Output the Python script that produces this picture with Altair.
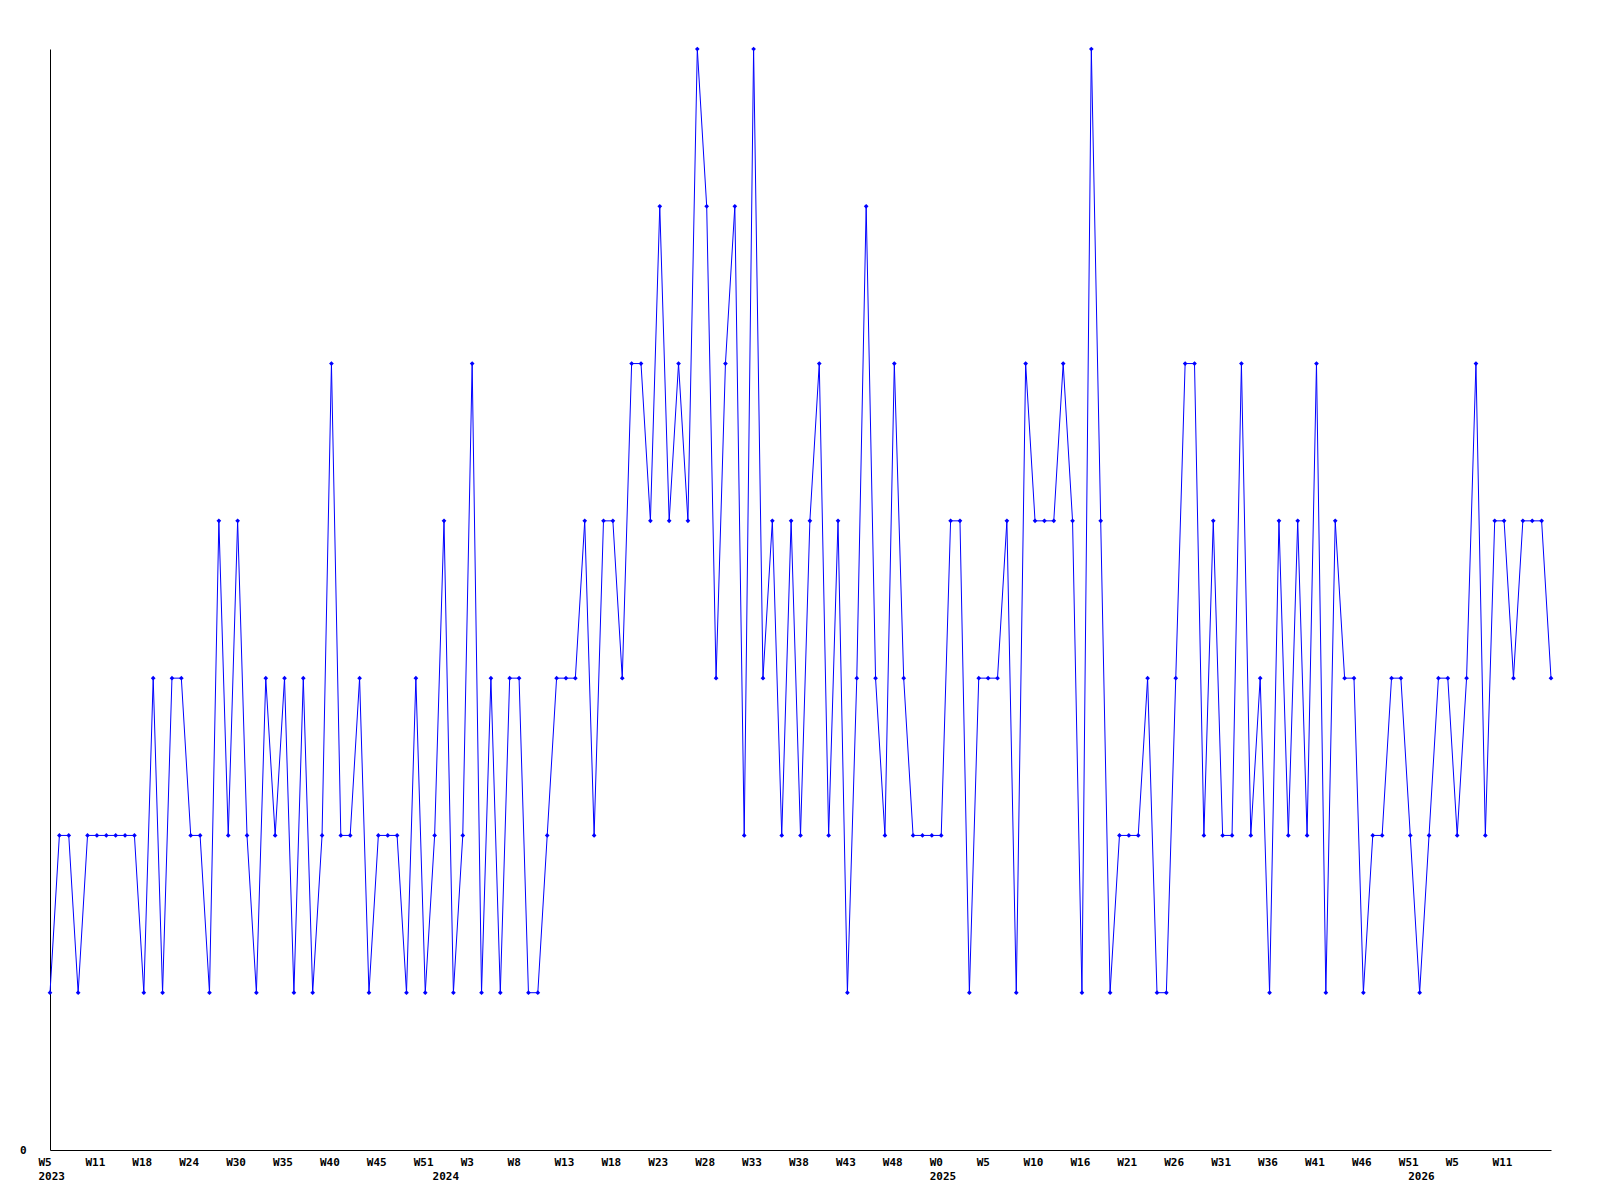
import altair as alt
import pandas as pd

values = [1, 2, 2, 1, 2, 2, 2, 2, 2, 2,
          1, 3, 1, 3, 3, 2, 2, 1, 4, 2,
          4, 2, 1, 3, 2, 3, 1, 3, 1, 2,
          5, 2, 2, 3, 1, 2, 2, 2, 1, 3,
          1, 2, 4, 1, 2, 5, 1, 3, 1, 3,
          3, 1, 1, 2, 3, 3, 3, 4, 2, 4,
          4, 3, 5, 5, 4, 6, 4, 5, 4, 7,
          6, 3, 5, 6, 2, 7, 3, 4, 2, 4,
          2, 4, 5, 2, 4, 1, 3, 6, 3, 2,
          5, 3, 2, 2, 2, 2, 4, 4, 1, 3,
          3, 3, 4, 1, 5, 4, 4, 4, 5, 4,
          1, 7, 4, 1, 2, 2, 2, 3, 1, 1,
          3, 5, 5, 2, 4, 2, 2, 5, 2, 3,
          1, 4, 2, 4, 2, 5, 1, 4, 3, 3,
          1, 2, 2, 3, 3, 2, 1, 2, 3, 3,
          2, 3, 5, 2, 4, 4, 3, 4, 4, 4,
          3]

tick_index = list(range(0, 160, 5))
tick_weeks = ["W5", "W11", "W18", "W24", "W30", "W35", "W40", "W45", "W51",
              "W3", "W8", "W13", "W18", "W23", "W28", "W33", "W38", "W43", "W48",
              "W0", "W5", "W10", "W16", "W21", "W26", "W31", "W36", "W41", "W46", "W51",
              "W5", "W11"]
year_index = [0, 42, 95, 146]
year_names = ["2023", "2024", "2025", "2026"]

df = pd.DataFrame({"i": list(range(len(values))), "v": values})

labels = {}
for idx, w in zip(tick_index, tick_weeks):
    labels[idx] = [w]
for idx, y in zip(year_index, year_names):
    if idx in labels:
        labels[idx] = labels[idx] + [y]
    else:
        labels[idx] = ["", y]

entries = []
for k in range(len(values)):
    if k in labels:
        entries.append("[" + ",".join("'%s'" % s for s in labels[k]) + "]")
    else:
        entries.append("''")
label_expr = "[" + ",".join(entries) + "][round(datum.value)]"
axis_values = sorted(labels.keys())

FONT = "DejaVu Sans Mono"

chart = alt.Chart(df).mark_line(
    color="#0000FF", strokeWidth=1,
    point=alt.OverlayMarkDef(shape="diamond", size=22, color="#0000FF", filled=True)
).encode(
    x=alt.X("i:Q", scale=alt.Scale(domain=[0, 160], nice=False, zero=False),
            axis=alt.Axis(values=axis_values, labelExpr=label_expr, title=None,
                          ticks=False, grid=False, domainColor="black", domainWidth=1,
                          labelAlign="left", labelBaseline="top", labelOffset=-12,
                          labelPadding=6, labelFont=FONT, labelFontWeight="bold",
                          labelFontSize=11, labelColor="black", labelLineHeight=14,
                          labelOverlap=False, labelFlush=False)),
    y=alt.Y("v:Q", scale=alt.Scale(domain=[0, 7], nice=False),
            axis=alt.Axis(values=[0], title=None, ticks=False, grid=False,
                          domainColor="black", domainWidth=1, labelPadding=24,
                          labelFont=FONT, labelFontWeight="bold", labelFontSize=11,
                          labelColor="black"))
).properties(
    width=1501, height=1101,
    autosize=alt.AutoSizeParams(type="none"),
    padding={"left": 42, "top": 41, "right": 41, "bottom": 42}
).configure_view(stroke=None)

chart.save("out.html", embed_options={"renderer": "svg", "actions": False})
